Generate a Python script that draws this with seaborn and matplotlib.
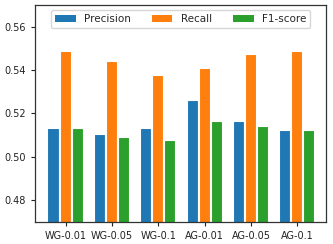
import matplotlib
matplotlib.use("Agg")
import matplotlib.pyplot as plt
import seaborn as sns
import pandas as pd

categories = ["WG-0.01", "WG-0.05", "WG-0.1", "AG-0.01", "AG-0.05", "AG-0.1"]
precision = [0.5132, 0.5107, 0.5135, 0.5262, 0.5163, 0.5123]
recall = [0.5489, 0.5440, 0.5376, 0.5408, 0.5474, 0.5486]
f1 = [0.5135, 0.5092, 0.5080, 0.5163, 0.5140, 0.5126]
metrics = ["Precision", "Recall", "F1-score"]

rows = []
for name, vals in zip(metrics, [precision, recall, f1]):
    for c, v in zip(categories, vals):
        rows.append({"cat": c, "metric": name, "value": v})
df = pd.DataFrame(rows)

sns.set_style("ticks")
plt.rcParams["font.family"] = ["DejaVu Sans"]

fig, ax = plt.subplots(figsize=(3.33, 2.44), dpi=100)
fig.subplots_adjust(left=0.105, right=0.979, top=0.98, bottom=0.09)

palette = ["#1f77b4", "#ff7f0e", "#2ca02c"]
sns.barplot(data=df, x="cat", y="value", hue="metric", order=categories,
            hue_order=metrics, palette=palette, width=0.78, gap=0,
            edgecolor="white", linewidth=1.5, saturation=1, ax=ax)

ax.set_ylim(0.47, 0.57)
ax.set_xlim(-0.66, 5.62)
ax.set_yticks([0.48, 0.50, 0.52, 0.54, 0.56])
ax.set_yticklabels(["0.48", "0.50", "0.52", "0.54", "0.56"])
ax.set_xlabel("")
ax.set_ylabel("")
ax.tick_params(axis="both", labelsize=7, length=3, width=0.8, colors="#222222")
for s in ax.spines.values():
    s.set_visible(True)
    s.set_color("#333333")
    s.set_linewidth(0.9)

handles, labels = ax.get_legend_handles_labels()
for h in handles:
    h.set_edgecolor("none")
ax.legend(handles, labels, ncol=3, loc="upper center", fontsize=7.5,
          handlelength=2.0, handletextpad=0.8, columnspacing=2.0,
          frameon=True, fancybox=True, framealpha=0.8, edgecolor="0.8",
          borderpad=0.4, borderaxespad=0.5)

fig.savefig("out.png", dpi=100)
